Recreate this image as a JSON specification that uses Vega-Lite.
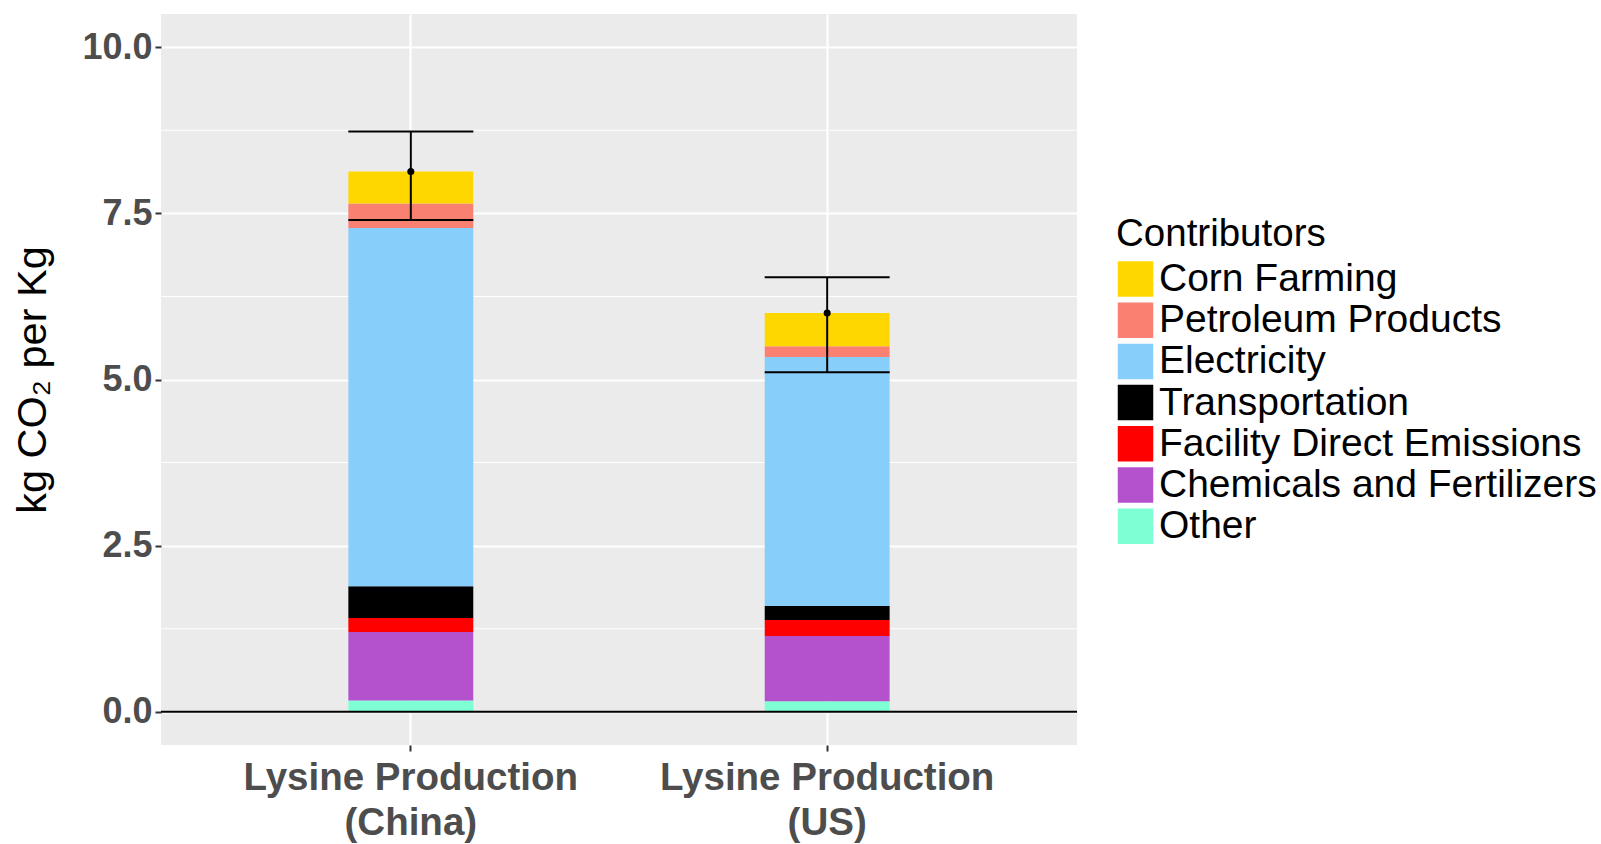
{
  "$schema": "https://vega.github.io/schema/vega-lite/v6.json",
  "width": 916,
  "height": 731,
  "autosize": {"type": "none"},
  "padding": {"left": 161, "top": 14, "right": 524, "bottom": 99},
  "background": "white",
  "config": {
    "view": {"fill": "#EBEBEB", "stroke": null},
    "font": "Liberation Sans",
    "axisY": {
      "grid": true, "gridColor": "white", "gridWidth": 2.2,
      "domain": false, "tickColor": "#333333", "tickSize": 6, "tickWidth": 2,
      "labelFont": "Liberation Sans", "labelFontWeight": "bold", "labelFontSize": 36,
      "labelColor": "#4D4D4D", "labelPadding": 3,
      "titleFont": "Liberation Sans", "titleFontSize": 41.5, "titleFontWeight": "normal",
      "titleColor": "black", "titleX": -128, "titleY": 365.5, "titleBaseline": "middle"
    },
    "axisX": {
      "grid": true, "gridColor": "white", "gridWidth": 2.2, "bandPosition": 0.5,
      "domain": false, "tickColor": "#333333", "tickSize": 6, "tickWidth": 2,
      "labelFont": "Liberation Sans", "labelFontWeight": "bold", "labelFontSize": 38.5,
      "labelColor": "#4D4D4D", "labelPadding": 8, "labelLineHeight": 45, "labelAngle": 0,
      "labelLimit": 0
    }
  },
  "datasets": {
    "contrib": [
      {"product": "Lysine Production (China)", "contributor": "Other", "rank": 1, "value": 0.17},
      {"product": "Lysine Production (China)", "contributor": "Chemicals and Fertilizers", "rank": 2, "value": 1.03},
      {"product": "Lysine Production (China)", "contributor": "Facility Direct Emissions", "rank": 3, "value": 0.21},
      {"product": "Lysine Production (China)", "contributor": "Transportation", "rank": 4, "value": 0.48},
      {"product": "Lysine Production (China)", "contributor": "Electricity", "rank": 5, "value": 5.39},
      {"product": "Lysine Production (China)", "contributor": "Petroleum Products", "rank": 6, "value": 0.37},
      {"product": "Lysine Production (China)", "contributor": "Corn Farming", "rank": 7, "value": 0.48},
      {"product": "Lysine Production (US)", "contributor": "Other", "rank": 1, "value": 0.16},
      {"product": "Lysine Production (US)", "contributor": "Chemicals and Fertilizers", "rank": 2, "value": 0.98},
      {"product": "Lysine Production (US)", "contributor": "Facility Direct Emissions", "rank": 3, "value": 0.24},
      {"product": "Lysine Production (US)", "contributor": "Transportation", "rank": 4, "value": 0.21},
      {"product": "Lysine Production (US)", "contributor": "Electricity", "rank": 5, "value": 3.75},
      {"product": "Lysine Production (US)", "contributor": "Petroleum Products", "rank": 6, "value": 0.16},
      {"product": "Lysine Production (US)", "contributor": "Corn Farming", "rank": 7, "value": 0.50}
    ],
    "err": [
      {"product": "Lysine Production (China)", "mean": 8.13, "lo": 7.40, "hi": 8.73},
      {"product": "Lysine Production (US)", "mean": 6.00, "lo": 5.11, "hi": 6.54}
    ],
    "minor": [{"v": 1.25}, {"v": 3.75}, {"v": 6.25}, {"v": 8.75}],
    "zero": [{"v": 0}]
  },
  "layer": [
    {
      "data": {"name": "minor"},
      "mark": {"type": "rule", "color": "white", "strokeWidth": 1.1},
      "encoding": {
        "y": {"field": "v", "type": "quantitative", "title": "kg CO₂ per Kg",
              "scale": {"domain": [-0.5, 10.5], "nice": false, "zero": false},
              "axis": {"values": [0, 2.5, 5, 7.5, 10], "format": ".1f"}}
      }
    },
    {
      "data": {"name": "contrib"},
      "mark": {"type": "bar"},
      "encoding": {
        "x": {"field": "product", "type": "nominal", "sort": null, "title": null,
              "scale": {"paddingInner": 0.7, "paddingOuter": 0.45},
              "axis": {"labelExpr": "[slice(datum.label, 0, 17), slice(datum.label, 18)]"}},
        "y": {"field": "value", "type": "quantitative", "stack": "zero", "title": "kg CO₂ per Kg"},
        "color": {
          "field": "contributor", "type": "nominal",
          "scale": {
            "domain": ["Corn Farming", "Petroleum Products", "Electricity", "Transportation", "Facility Direct Emissions", "Chemicals and Fertilizers", "Other"],
            "range": ["#FFD700", "#FA8072", "#87CEFA", "#000000", "#FF0000", "#B452CD", "#7FFFD4"]
          },
          "legend": {
            "title": "Contributors", "orient": "none", "legendX": 955, "legendY": 202,
            "symbolType": "square", "symbolSize": 1260, "symbolStrokeWidth": 0,
            "labelFont": "Liberation Sans", "titleFont": "Liberation Sans",
            "labelFontSize": 39, "titleFontSize": 38.5, "titleFontWeight": "normal",
            "labelColor": "black", "titleColor": "black",
            "rowPadding": 1.2, "labelOffset": 4, "titlePadding": 5, "padding": 0,
            "labelLimit": 0, "titleLimit": 0
          }
        },
        "order": {"field": "rank", "type": "quantitative"}
      }
    },
    {
      "data": {"name": "zero"},
      "mark": {"type": "rule", "color": "black", "strokeWidth": 2},
      "encoding": {"y": {"field": "v", "type": "quantitative", "title": "kg CO₂ per Kg"}}
    },
    {
      "data": {"name": "err"},
      "mark": {"type": "rule", "color": "black", "strokeWidth": 2},
      "encoding": {
        "x": {"field": "product", "type": "nominal", "sort": null},
        "y": {"field": "lo", "type": "quantitative", "title": "kg CO₂ per Kg"},
        "y2": {"field": "hi"}
      }
    },
    {
      "data": {"name": "err"},
      "mark": {"type": "tick", "color": "black", "orient": "horizontal", "size": 125, "thickness": 2, "opacity": 1},
      "encoding": {
        "x": {"field": "product", "type": "nominal", "sort": null},
        "y": {"field": "lo", "type": "quantitative", "title": "kg CO₂ per Kg"}
      }
    },
    {
      "data": {"name": "err"},
      "mark": {"type": "tick", "color": "black", "orient": "horizontal", "size": 125, "thickness": 2, "opacity": 1},
      "encoding": {
        "x": {"field": "product", "type": "nominal", "sort": null},
        "y": {"field": "hi", "type": "quantitative", "title": "kg CO₂ per Kg"}
      }
    },
    {
      "data": {"name": "err"},
      "mark": {"type": "circle", "color": "black", "size": 50, "opacity": 1},
      "encoding": {
        "x": {"field": "product", "type": "nominal", "sort": null},
        "y": {"field": "mean", "type": "quantitative", "title": "kg CO₂ per Kg"}
      }
    }
  ]
}
